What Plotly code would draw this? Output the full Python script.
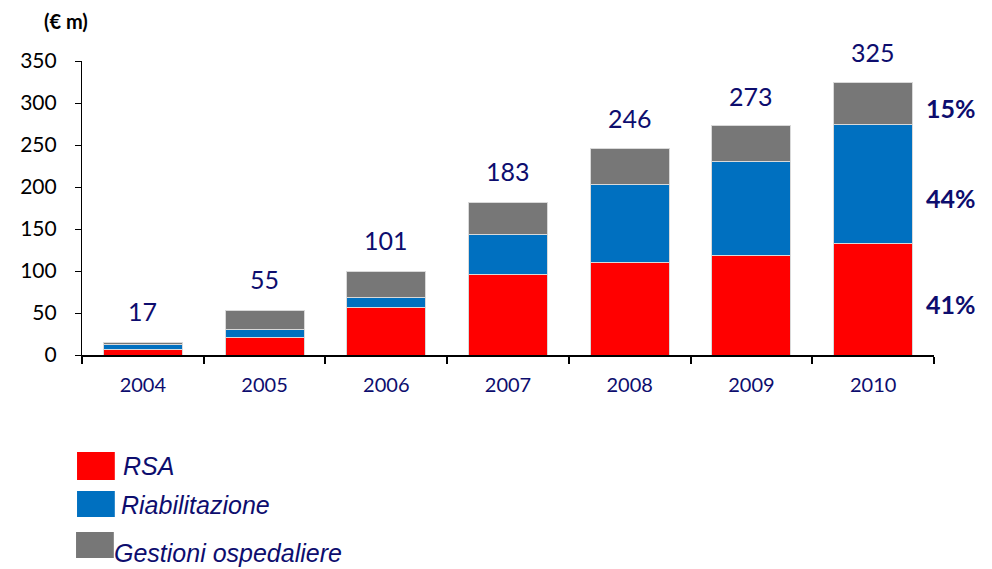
import plotly.graph_objects as go

years = ["2004", "2005", "2006", "2007", "2008", "2009", "2010"]
rsa = [7, 21, 57, 96, 110, 119, 133]
riabilitazione = [6, 9, 12, 47, 93, 111, 142]
gestioni = [2, 23, 31, 39, 43, 43, 49]
totals_labels = ["17", "55", "101", "183", "246", "273", "325"]
totals_values = [17, 55, 101, 183, 246, 273, 325]
share_labels = ["41%", "44%", "15%"]

NAVY = "#0d0d6e"
RED = "#ff0000"
BLUE = "#0070c0"
GRAY = "#777777"

# page has an 8px body margin; figure sized so it ends at the window edges
W, H = 984, 561
L, T = 69, 53
pw, ph = 857, 294
R, B = W - L - pw, H - T - ph


def px(x):
    # x in window pixels -> paper
    return (x - 8 - L) / pw


def py(y):
    # y in window pixels -> paper
    return (T + ph - (y - 8)) / ph


fig = go.Figure()
for name, vals, col in [("RSA", rsa, RED), ("Riabilitazione", riabilitazione, BLUE),
                        ("Gestioni ospedaliere", gestioni, GRAY)]:
    fig.add_trace(go.Bar(x=years, y=vals, name=name, marker=dict(color=col, line=dict(color="#d9d9d9", width=1)),
                         width=0.65, showlegend=False, hoverinfo="skip"))

annotations = []
for i, (lab, v) in enumerate(zip(totals_labels, totals_values)):
    annotations.append(dict(x=i, y=v, xref="x", yref="y", text=lab, showarrow=False,
                            yanchor="middle", yshift=30,
                            font=dict(family="Lato, sans-serif", size=25, color=NAVY)))

# share labels next to the last bar, at segment midpoints
r, b, g = rsa[-1], riabilitazione[-1], gestioni[-1]
mids = [r / 2, r + b / 2, r + b + g / 2]
shifts = [-5, -14, -5]
for lab, m, s in zip(share_labels, mids, shifts):
    annotations.append(dict(x=px(924), y=m, xref="paper", yref="y", text="<b>" + lab + "</b>",
                            showarrow=False, xanchor="left", yanchor="middle", yshift=s,
                            font=dict(family="Lato, sans-serif", size=25, color=NAVY)))

annotations.append(dict(x=px(37), y=py(21), xref="paper", yref="paper", text="<b>(€ m)</b>",
                        showarrow=False, xanchor="left", yanchor="middle",
                        font=dict(family="Lato, sans-serif", size=20, color="black")))

# custom legend
shapes = []
legend_items = [("RSA", RED, (72, 110, 452, 480), (116, 466)),
                ("Riabilitazione", BLUE, (72, 110, 491, 517), (114, 505)),
                ("Gestioni ospedaliere", GRAY, (71, 109, 532, 558), (107, 553))]
for name, col, (x0, x1, y0, y1), (tx, ty) in legend_items:
    shapes.append(dict(type="rect", xref="paper", yref="paper", x0=px(x0), x1=px(x1),
                       y0=py(y1), y1=py(y0), fillcolor=col, line=dict(width=0)))
    annotations.append(dict(x=px(tx), y=py(ty), xref="paper", yref="paper", text="<i>" + name + "</i>",
                            showarrow=False, xanchor="left", yanchor="middle",
                            font=dict(family="Liberation Sans, Arial, sans-serif", size=25, color=NAVY)))

fig.update_layout(
    width=W, height=H,
    margin=dict(l=L, r=R, t=T, b=B, pad=0),
    barmode="stack",
    plot_bgcolor="white", paper_bgcolor="white",
    annotations=annotations, shapes=shapes,
    showlegend=False,
)
fig.update_xaxes(type="category", range=[-0.5, 6.5], showgrid=False, showline=True, linecolor="black", linewidth=2,
                 ticks="outside", tickson="boundaries", ticklen=7, tickcolor="black", tickwidth=1.5,
                 ticklabelstandoff=11, tickangle=0,
                 tickfont=dict(family="Lato, sans-serif", size=20, color=NAVY))
fig.update_yaxes(range=[0, 350], dtick=50, showgrid=False, showline=True, linecolor="black", linewidth=1.2,
                 ticks="outside", ticklen=6, tickcolor="black", zeroline=False,
                 ticklabelstandoff=14,
                 tickfont=dict(family="Lato, sans-serif", size=21, color="black"))

fig.write_html("out.html")
